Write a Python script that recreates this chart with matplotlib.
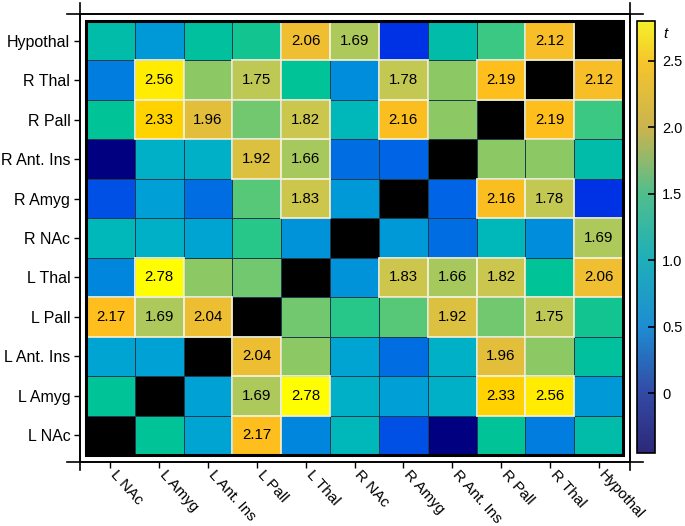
import numpy as np
import matplotlib
matplotlib.use("Agg")
import matplotlib.pyplot as plt
from matplotlib.colors import LinearSegmentedColormap, Normalize
from matplotlib.patches import Rectangle
import matplotlib.transforms as mtransforms
import matplotlib.cm as cm

plt.rcParams['font.family'] = ['Liberation Sans', 'DejaVu Sans']

# regions, bottom -> top on y, left -> right on x
regions = ["L NAc", "L Amyg", "L Ant. Ins", "L Pall", "L Thal",
           "R NAc", "R Amyg", "R Ant. Ins", "R Pall", "R Thal", "Hypothal"]

# t values, row i = region i (from bottom), symmetric, diagonal empty
t_values = np.array([
    [np.nan, 1.25, 0.75, 2.17, 0.50, 1.00, 0.20, -0.45, 1.25, 0.45, 1.10],
    [1.25, np.nan, 0.72, 1.69, 2.78, 0.90, 0.70, 0.90, 2.33, 2.56, 0.65],
    [0.75, 0.72, np.nan, 2.04, 1.55, 0.75, 0.35, 0.90, 1.96, 1.55, 1.20],
    [2.17, 1.69, 2.04, np.nan, 1.50, 1.35, 1.45, 1.92, 1.50, 1.75, 1.30],
    [0.50, 2.78, 1.55, 1.50, np.nan, 0.60, 1.83, 1.66, 1.82, 1.25, 2.06],
    [1.00, 0.90, 0.75, 1.35, 0.60, np.nan, 0.65, 0.35, 1.00, 0.55, 1.69],
    [0.20, 0.70, 0.35, 1.45, 1.83, 0.65, np.nan, 0.30, 2.16, 1.78, 0.05],
    [-0.45, 0.90, 0.90, 1.92, 1.66, 0.35, 0.30, np.nan, 1.55, 1.55, 1.10],
    [1.25, 2.33, 1.96, 1.50, 1.82, 1.00, 2.16, 1.55, np.nan, 2.19, 1.40],
    [0.45, 2.56, 1.55, 1.75, 1.25, 0.55, 1.78, 1.55, 2.19, np.nan, 2.12],
    [1.10, 0.65, 1.20, 1.30, 2.06, 1.69, 0.05, 1.10, 1.40, 2.12, np.nan],
])
sig_min = 1.65
t_min, t_max = -0.45, 2.80
cbar_ticks = [0, 0.5, 1.0, 1.5, 2.0, 2.5]
cbar_labels = ["0", "0.5", "1.0", "1.5", "2.0", "2.5"]

# colours of the cells (value, colour)
cell_anchors = [(-0.45, "#000080"), (0.05, "#0032e6"), (0.30, "#0064e6"),
                (0.50, "#0087dc"), (0.70, "#00a0d7"), (0.95, "#00b4c3"),
                (1.10, "#00bcaa"), (1.25, "#00c396"), (1.40, "#3cc882"),
                (1.55, "#8cc864"), (1.70, "#afc85a"), (1.80, "#c8c850"),
                (1.95, "#e1be3c"), (2.10, "#f5be2d"), (2.20, "#ffbe19"),
                (2.33, "#ffd200"), (2.56, "#ffeb00"), (2.80, "#ffff00")]
# colours of the colour bar (fraction, colour)
bar_anchors = [(0.0, "#2d2878"), (0.14, "#324ba5"), (0.29, "#1e8cd2"),
               (0.45, "#1eafb9"), (0.60, "#50be8c"), (0.75, "#c8b450"),
               (0.90, "#f5c32d"), (1.0, "#f5f028")]

norm = Normalize(t_min, t_max)
cell_cmap = LinearSegmentedColormap.from_list(
    "cells", [((v - t_min) / (t_max - t_min), c) for v, c in cell_anchors])
cell_cmap.set_bad("black")
bar_cmap = LinearSegmentedColormap.from_list("bar", bar_anchors)

W, H = 685, 526
fig = plt.figure(figsize=(W / 100, H / 100), dpi=100)
# outer frame from x=80..630, y=14..462 (pixels)
ax = fig.add_axes([80 / W, (H - 462) / H, 550 / W, 448 / H])

n = len(regions)
edges = np.arange(n + 1) - 0.5
ax.pcolormesh(edges, edges, np.ma.masked_invalid(t_values), cmap=cell_cmap,
              norm=norm, edgecolors="#1e3c50", linewidth=0.6)

for i in range(n):
    for j in range(n):
        v = t_values[i, j]
        if not np.isnan(v) and v >= sig_min:
            ax.add_patch(Rectangle((j - 0.5, i - 0.5), 1, 1, fill=False,
                                   edgecolor="#f0f0d2", lw=1.3, zorder=3))
            ax.text(j, i, f"{v:.2f}", ha="center", va="center",
                    fontsize=10.8, color="black", zorder=4)

ax.add_patch(Rectangle((-0.5, -0.5), n, n, fill=False, edgecolor="black",
                       lw=2.2, zorder=5))

cw = 537 / n
ch = 434 / n
ax.set_xlim(-0.5 - 6 / cw, n - 0.5 + 7 / cw)
ax.set_ylim(-0.5 - 7 / ch, n - 0.5 + 7 / ch)

ax.set_xticks(range(n))
ax.set_yticks(range(n))
ax.set_xticklabels(regions, rotation=-48, ha="left", va="top",
                   rotation_mode="anchor", fontsize=11)
ax.set_yticklabels(regions, fontsize=11.5)
ax.tick_params(direction="out", length=4, width=1, pad=3)
# nudge the slanted labels to the right, as in the original
shift = mtransforms.ScaledTranslation(8 / 100, 4 / 100, fig.dpi_scale_trans)
for lab in ax.get_xticklabels():
    lab.set_transform(lab.get_transform() + shift)
for s in ax.spines.values():
    s.set_linewidth(1.2)

# frame lines running past the corners
kw = dict(transform=ax.transAxes, clip_on=False, color="black", lw=1.2)
ax.plot([0, 0], [-0.018, 1.025], **kw)
ax.plot([1, 1], [-0.018, 1.025], **kw)
ax.plot([-0.024, 1.024], [1, 1], **kw)
ax.plot([-0.024, 1.024], [0, 0], **kw)

# colour bar
cax = fig.add_axes([637 / W, (H - 453) / H, 18 / W, 432 / H])
sm = cm.ScalarMappable(norm=norm, cmap=bar_cmap)
cb = fig.colorbar(sm, cax=cax, ticks=cbar_ticks)
cb.set_ticklabels(cbar_labels)
cb.outline.set_linewidth(1.2)
cax.tick_params(direction="in", length=5, width=1.2, labelsize=10.5, pad=5)
cax.text(1.45, 0.985, "t", style="italic", fontsize=11,
         transform=cax.transAxes, va="top")

fig.savefig("out.png", dpi=100)
